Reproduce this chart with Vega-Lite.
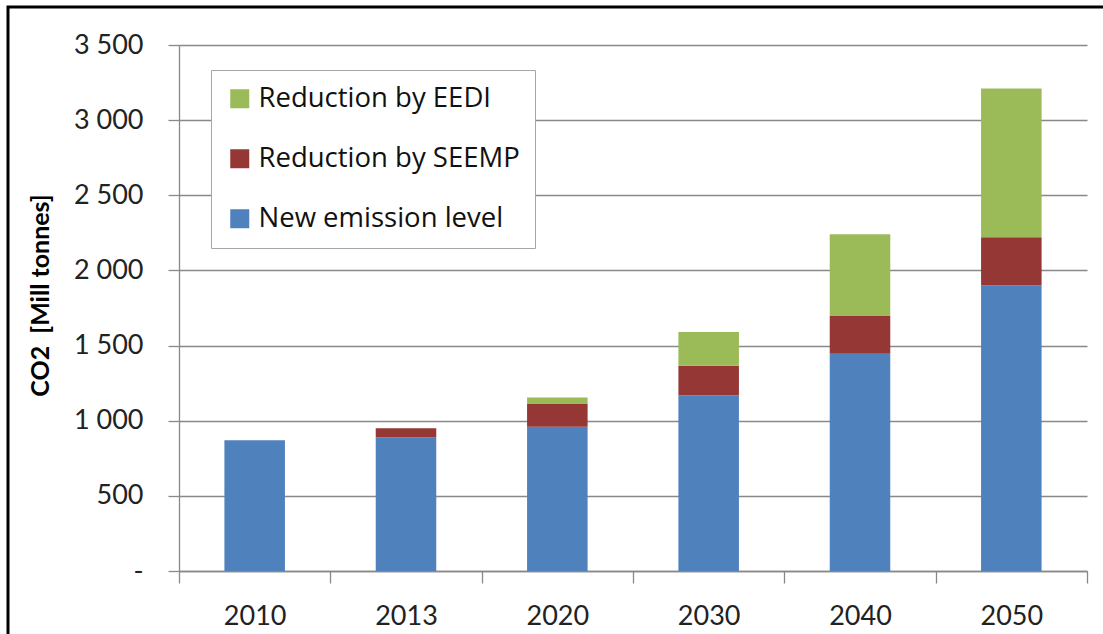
{
  "$schema": "https://vega.github.io/schema/vega-lite/v6.json",
  "width": 1100,
  "height": 634,
  "padding": {"left": 8, "top": 7, "right": 0, "bottom": 0},
  "autosize": {"type": "none"},
  "background": "white",
  "config": {
    "view": {"stroke": "black", "strokeWidth": 3},
    "font": "Lato"
  },
  "data": {
    "values": [
      {"year": "2010", "measure": "New emission level", "step": 1, "value": 870},
      {"year": "2013", "measure": "New emission level", "step": 1, "value": 890},
      {"year": "2013", "measure": "Reduction by SEEMP", "step": 2, "value": 60},
      {"year": "2020", "measure": "New emission level", "step": 1, "value": 960},
      {"year": "2020", "measure": "Reduction by SEEMP", "step": 2, "value": 155},
      {"year": "2020", "measure": "Reduction by EEDI", "step": 3, "value": 40},
      {"year": "2030", "measure": "New emission level", "step": 1, "value": 1170},
      {"year": "2030", "measure": "Reduction by SEEMP", "step": 2, "value": 195},
      {"year": "2030", "measure": "Reduction by EEDI", "step": 3, "value": 225},
      {"year": "2040", "measure": "New emission level", "step": 1, "value": 1445},
      {"year": "2040", "measure": "Reduction by SEEMP", "step": 2, "value": 255},
      {"year": "2040", "measure": "Reduction by EEDI", "step": 3, "value": 540},
      {"year": "2050", "measure": "New emission level", "step": 1, "value": 1900},
      {"year": "2050", "measure": "Reduction by SEEMP", "step": 2, "value": 320},
      {"year": "2050", "measure": "Reduction by EEDI", "step": 3, "value": 990}
    ]
  },
  "mark": {"type": "bar", "width": {"band": 0.4}},
  "encoding": {
    "x": {
      "field": "year",
      "type": "ordinal",
      "scale": {"range": [171, 1079], "paddingInner": 0, "paddingOuter": 0},
      "axis": {
        "title": null,
        "orient": "bottom",
        "offset": -70,
        "tickBand": "extent",
        "tickSize": 12,
        "tickColor": "#898989",
        "tickWidth": 1.3,
        "domainColor": "#898989",
        "domainWidth": 1.3,
        "grid": false,
        "labelAngle": 0,
        "labelFontSize": 27,
        "labelColor": "#222222",
        "labelPadding": 20,
        "labelBaseline": "top"
      }
    },
    "y": {
      "field": "value",
      "type": "quantitative",
      "stack": "zero",
      "scale": {"domain": [0, 3500], "range": [564, 38], "nice": false},
      "axis": {
        "title": "CO2\u00a0 [Mill tonnes]",
        "offset": -171,
        "values": [0, 500, 1000, 1500, 2000, 2500, 3000, 3500],
        "labelExpr": "datum.value === 0 ? '-' : replace(format(datum.value, ','), ',', ' ')",
        "tickSize": 11,
        "tickColor": "#898989",
        "tickWidth": 1.3,
        "domainColor": "#898989",
        "domainWidth": 1.3,
        "grid": true,
        "gridColor": "#898989",
        "gridWidth": 1.3,
        "labelFontSize": 27,
        "labelColor": "#222222",
        "labelPadding": 25,
        "titleFontSize": 25,
        "titleFontWeight": "bold",
        "titleColor": "black",
        "titleAngle": -90,
        "titleAlign": "center",
        "titleBaseline": "middle",
        "titleX": -139,
        "titleY": 288
      }
    },
    "color": {
      "field": "measure",
      "type": "nominal",
      "scale": {
        "domain": ["Reduction by EEDI", "Reduction by SEEMP", "New emission level"],
        "range": ["#9BBB59", "#953735", "#4F81BD"]
      },
      "legend": {
        "title": null,
        "orient": "none",
        "legendX": 203,
        "legendY": 63,
        "padding": 15,
        "fillColor": "white",
        "strokeColor": "#a6a6a6",
        "symbolType": "square",
        "symbolSize": 361,
        "symbolStrokeWidth": 0,
        "symbolOpacity": 1,
        "labelFont": "Open Sans",
        "labelFontSize": 27.5,
        "labelColor": "#111111",
        "labelOffset": 5,
        "labelLimit": 400,
        "rowPadding": 31
      }
    },
    "order": {"field": "step", "sort": "ascending"}
  }
}
